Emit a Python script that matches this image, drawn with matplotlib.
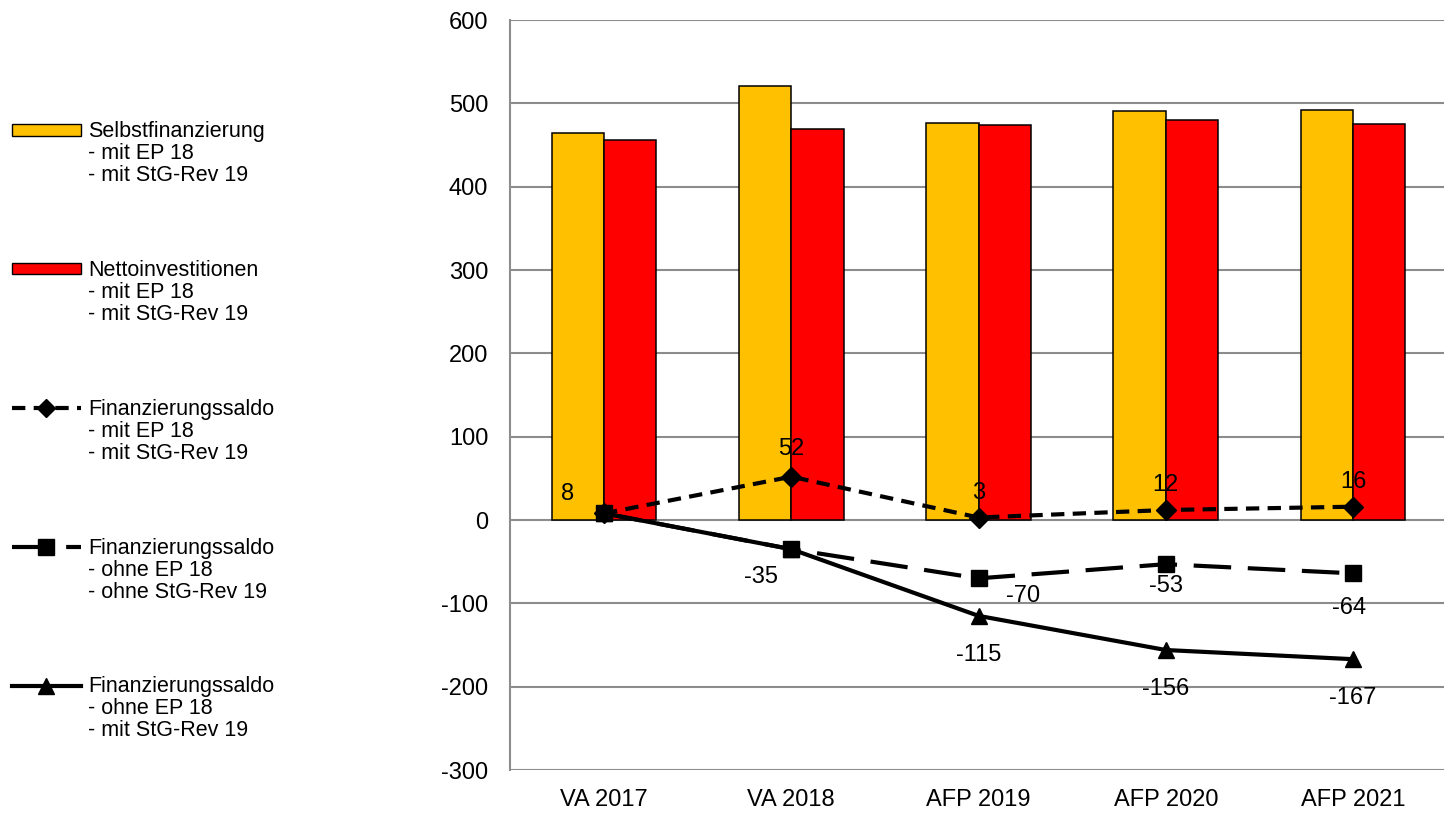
import numpy as np
import matplotlib.pyplot as plt
from matplotlib.patches import Patch
from matplotlib.lines import Line2D
from matplotlib.text import Annotation

plt.rcParams['font.family'] = ['Liberation Sans', 'DejaVu Sans']
plt.rcParams['font.size'] = 17
plt.rcParams['axes.unicode_minus'] = False

# Daten
kategorien = ['VA 2017', 'VA 2018', 'AFP 2019', 'AFP 2020', 'AFP 2021']
selbstfinanzierung = [464, 521, 476, 491, 492]
nettoinvestitionen = [456, 469, 474, 480, 475]
saldo_mit = [8, 52, 3, 12, 16]
saldo_ohne_ohne = [8, -35, -70, -53, -64]
saldo_ohne_mit = [8, -35, -115, -156, -167]

legende_titel = ['Selbstfinanzierung', 'Nettoinvestitionen', 'Finanzierungssaldo',
                 'Finanzierungssaldo', 'Finanzierungssaldo']
legende_zeilen = [
    ['- mit EP 18', '- mit StG-Rev 19'],
    ['- mit EP 18', '- mit StG-Rev 19'],
    ['- mit EP 18', '- mit StG-Rev 19'],
    ['- ohne EP 18', '- ohne StG-Rev 19'],
    ['- ohne EP 18', '- mit StG-Rev 19'],
]

fig = plt.figure(figsize=(14.44, 8.15), dpi=100)
ax = fig.add_axes([0.3535, 0.0552, 0.6483, 0.9202])

x = np.arange(len(kategorien))
w = 0.28
ax.bar(x - w / 2, selbstfinanzierung, w, color='#FFC000', edgecolor='black', linewidth=1.1, zorder=2)
ax.bar(x + w / 2, nettoinvestitionen, w, color='#FF0000', edgecolor='black', linewidth=1.1, zorder=2)

ax.plot(x, saldo_ohne_mit, color='black', lw=3, marker='^', ms=12, zorder=3)
ax.plot(x, saldo_ohne_ohne, color='black', lw=3, marker='s', ms=12,
        dashes=(9, 4), zorder=4)
ax.plot(x, saldo_mit, color='black', lw=3, marker='D', ms=10,
        dashes=(3.2, 2), zorder=5)

# Datenbeschriftungen
offs_mit = [(-26, 6), (0, 12), (0, 10), (0, 10), (0, 10)]
for i, v in enumerate(saldo_mit):
    ax.annotate(str(v), (x[i], v), xytext=offs_mit[i], textcoords='offset points',
                ha='center', va='bottom')
offs_sq = [None, (-22, -12), (32, -5), (0, -8), (-3, -17)]
for i, v in enumerate(saldo_ohne_ohne):
    if offs_sq[i] is not None:
        ax.annotate(str(v), (x[i], v), xytext=offs_sq[i], textcoords='offset points',
                    ha='center', va='top')
for i, v in enumerate(saldo_ohne_mit):
    if i >= 2:
        ax.annotate(str(v), (x[i], v), xytext=(0, -20), textcoords='offset points',
                    ha='center', va='top')

ax.set_xlim(-0.5, 4.5)
ax.set_ylim(-300, 600)
ax.set_yticks(np.arange(-300, 601, 100))
ax.set_xticks(x)
ax.set_xticklabels(kategorien)
ax.grid(axis='y', color='#8c8c8c', lw=1.5, zorder=0)
ax.set_axisbelow(True)
for s in ['top', 'right', 'bottom']:
    ax.spines[s].set_visible(False)
ax.spines['left'].set_color('#8c8c8c')
ax.spines['left'].set_linewidth(1.5)
ax.tick_params(axis='y', length=0, pad=16)
ax.tick_params(axis='x', length=0, pad=14)

# Legende
handles = [
    Patch(facecolor='#FFC000', edgecolor='black'),
    Patch(facecolor='#FF0000', edgecolor='black'),
    Line2D([], [], color='black', lw=3, marker='D', ms=9, dashes=(3.2, 2)),
    Line2D([], [], color='black', lw=3, marker='s', ms=11, dashes=(9, 4)),
    Line2D([], [], color='black', lw=3, marker='^', ms=11),
]
leg = fig.legend(handles, legende_titel, loc='upper left', bbox_to_anchor=(0.0083, 0.851),
                 frameon=False, fontsize=15.5, handlelength=3.2, handleheight=0.45,
                 handletextpad=0.35, labelspacing=5.47, borderpad=0, borderaxespad=0)
for txt, zeilen in zip(leg.get_texts(), legende_zeilen):
    for k, zeile in enumerate(zeilen):
        a = Annotation(zeile, xy=(0, 0.5), xycoords=txt, xytext=(0, -15.8 * (k + 1)),
                       textcoords='offset points', ha='left', va='center', fontsize=15.5)
        a.set_zorder(10)
        fig.add_artist(a)

fig.savefig('out.png', dpi=100)
